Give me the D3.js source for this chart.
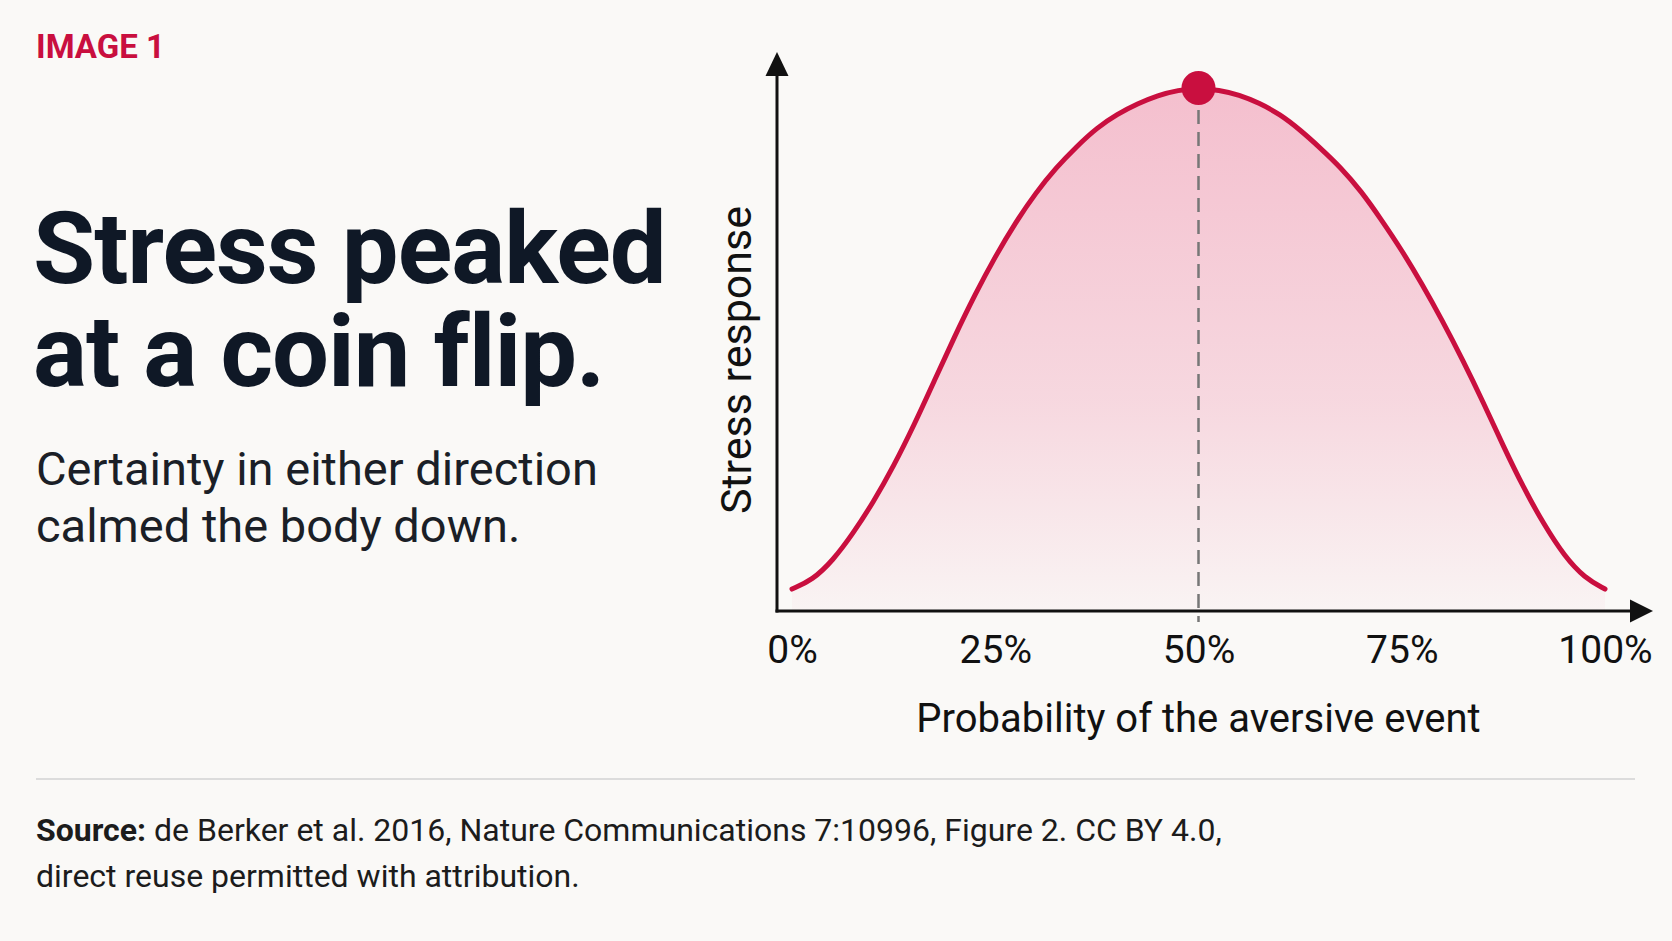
<!DOCTYPE html>
<html lang="en">
<head>
<meta charset="utf-8">
<title>Stress peaked at a coin flip</title>
<script src="https://cdn.jsdelivr.net/npm/d3@7"></script>
<style>
    body { margin: 0; background: #faf9f7; }
    svg { display: block; }
    text { font-family: Roboto, "Noto Sans", sans-serif; }
</style>
</head>
<body>
<div id="chart"></div>
<script>
    // values (probability in %, stress relative to peak)
    const probabilities = [0, 2.5, 5, 7.5, 10, 12.5, 15, 17.5, 20, 22.5, 25, 27.5, 30, 32.5, 35, 37.5, 40, 42.5, 45, 47.5,
        50, 52.5, 55, 57.5, 60, 62.5, 65, 67.5, 70, 72.5, 75, 77.5, 80, 82.5, 85, 87.5, 90, 92.5, 95, 97.5, 100];
    const stressValues = [0.042, 0.059, 0.096, 0.148, 0.208, 0.277, 0.355, 0.44, 0.525, 0.605, 0.678, 0.743, 0.80, 0.848, 0.888, 0.924, 0.950, 0.970, 0.986, 0.996,
        1.0, 0.996, 0.987, 0.971, 0.95, 0.92, 0.885, 0.848, 0.803, 0.748, 0.69, 0.625, 0.555, 0.48, 0.40, 0.315, 0.235, 0.165, 0.105, 0.063, 0.042];
    const tickValues = [0, 25, 50, 75, 100];
    const tickLabels = ["0%", "25%", "50%", "75%", "100%"];

    const kicker = "IMAGE 1";
    const titleLines = ["Stress peaked", "at a coin flip."];
    const subtitleLines = ["Certainty in either direction", "calmed the body down."];
    const xLabel = "Probability of the aversive event";
    const yLabel = "Stress response";
    const sourceLines = [
        ["Source:", " de Berker et al. 2016, Nature Communications 7:10996, Figure 2. CC BY 4.0,"],
        ["", "direct reuse permitted with attribution."]
    ];

    const width = 1672, height = 941;
    const red = "#c90f3f", ink = "#111111", navy = "#0f1826";

    const data = probabilities.map((p, i) => ({p: p, v: stressValues[i]}));
    const peak = data.reduce((a, b) => (b.v > a.v ? b : a));

    const svg = d3.select("#chart").append("svg")
        .attr("width", width)
        .attr("height", height);

    svg.append("rect")
        .attr("width", width)
        .attr("height", height)
        .attr("fill", "#faf9f7");

    // left text block
    svg.append("text")
        .attr("x", 36).attr("y", 58)
        .attr("fill", red)
        .attr("font-size", 33)
        .attr("font-weight", 700)
        .text(kicker);

    svg.selectAll("text.title")
        .data(titleLines)
        .join("text")
            .attr("class", "title")
            .attr("x", 33)
            .attr("y", (d, i) => 283 + i * 103)
            .attr("fill", navy)
            .attr("font-size", 101)
            .attr("font-weight", 700)
            .attr("letter-spacing", -1)
            .text(d => d);

    svg.selectAll("text.subtitle")
        .data(subtitleLines)
        .join("text")
            .attr("class", "subtitle")
            .attr("x", 36)
            .attr("y", (d, i) => 485 + i * 57)
            .attr("fill", "#1b1f27")
            .attr("font-size", 47)
            .text(d => d);

    // chart
    const x = d3.scaleLinear().domain([0, 100]).range([792, 1605]);
    const y = d3.scaleLinear().domain([0, 1]).range([611, 88]);
    const axisX = x(0) - 15;

    const defs = svg.append("defs");
    const grad = defs.append("linearGradient")
        .attr("id", "fillGrad")
        .attr("gradientUnits", "userSpaceOnUse")
        .attr("x1", 0).attr("x2", 0)
        .attr("y1", y(1)).attr("y2", y(0));
    grad.append("stop").attr("offset", 0).attr("stop-color", "#ec6f95").attr("stop-opacity", 0.42);
    grad.append("stop").attr("offset", 0.6).attr("stop-color", "#ec6f95").attr("stop-opacity", 0.24);
    grad.append("stop").attr("offset", 1).attr("stop-color", "#ec6f95").attr("stop-opacity", 0.04);

    const area = d3.area()
        .x(d => x(d.p))
        .y0(y(0))
        .y1(d => y(d.v))
        .curve(d3.curveBasis);

    const line = d3.line()
        .x(d => x(d.p))
        .y(d => y(d.v))
        .curve(d3.curveBasis);

    svg.append("path")
        .attr("d", area(data))
        .attr("fill", "url(#fillGrad)");

    // dashed guide at the peak
    svg.append("line")
        .attr("x1", x(peak.p)).attr("x2", x(peak.p))
        .attr("y1", y(peak.v)).attr("y2", y(0) + 11)
        .attr("stroke", "#777777")
        .attr("stroke-width", 2.5)
        .attr("stroke-dasharray", "14 8");

    svg.append("path")
        .attr("d", line(data))
        .attr("fill", "none")
        .attr("stroke", red)
        .attr("stroke-width", 5)
        .attr("stroke-linecap", "round");

    // axes with arrow heads
    svg.append("line")
        .attr("x1", axisX).attr("x2", axisX)
        .attr("y1", y(0) + 1.5).attr("y2", 70)
        .attr("stroke", ink).attr("stroke-width", 3);
    svg.append("path")
        .attr("d", `M${axisX},52 L${axisX - 11.5},76 L${axisX + 11.5},76 Z`)
        .attr("fill", ink);

    svg.append("line")
        .attr("x1", axisX - 1.5).attr("x2", 1635)
        .attr("y1", y(0)).attr("y2", y(0))
        .attr("stroke", ink).attr("stroke-width", 3);
    svg.append("path")
        .attr("d", `M1653,${y(0)} L1630,${y(0) - 11.5} L1630,${y(0) + 11.5} Z`)
        .attr("fill", ink);

    const xAxis = d3.axisBottom(x)
        .tickValues(tickValues)
        .tickFormat((d, i) => tickLabels[i])
        .tickSize(0);

    const gx = svg.append("g")
        .attr("transform", `translate(0, ${y(0)})`)
        .call(xAxis);
    gx.select(".domain").remove();
    gx.selectAll("text")
        .attr("y", 52)
        .attr("dy", 0)
        .attr("font-family", "Roboto, sans-serif")
        .attr("font-size", 39)
        .attr("fill", ink);

    svg.append("circle")
        .attr("cx", x(peak.p))
        .attr("cy", y(peak.v))
        .attr("r", 17)
        .attr("fill", red);

    svg.append("text")
        .attr("x", x(50)).attr("y", 732)
        .attr("text-anchor", "middle")
        .attr("fill", ink)
        .attr("font-size", 40)
        .text(xLabel);

    svg.append("text")
        .attr("transform", `translate(751, 360) rotate(-90)`)
        .attr("text-anchor", "middle")
        .attr("fill", ink)
        .attr("font-size", 43)
        .text(yLabel);

    // footer
    svg.append("line")
        .attr("x1", 36).attr("x2", 1635)
        .attr("y1", 779).attr("y2", 779)
        .attr("stroke", "#dcdcdc").attr("stroke-width", 2);

    const src = svg.selectAll("text.source")
        .data(sourceLines)
        .join("text")
            .attr("class", "source")
            .attr("x", 36)
            .attr("y", (d, i) => 841 + i * 46)
            .attr("fill", "#1c1c1c")
            .attr("font-size", 32);
    src.append("tspan").attr("font-weight", 700).text(d => d[0]);
    src.append("tspan").text(d => d[1]);
</script>
</body>
</html>
